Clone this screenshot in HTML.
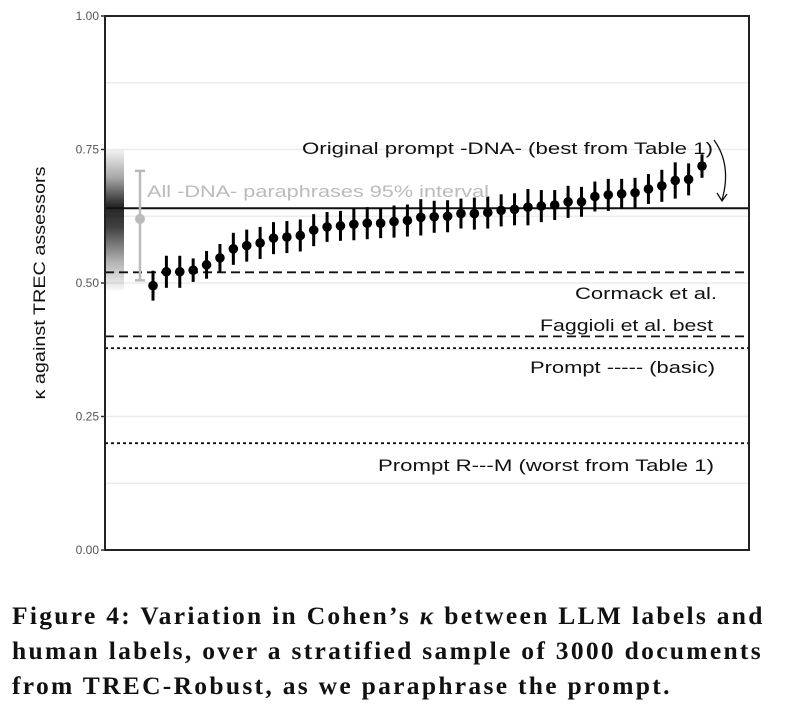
<!DOCTYPE html>
<html><head><meta charset="utf-8"><style>
body{margin:0;background:#fff;width:789px;height:713px;overflow:hidden}
svg{display:block}
.cap{position:absolute;left:12px;top:598px;font-family:"Liberation Serif",serif;font-weight:bold;font-size:25.5px;line-height:35px;color:#111;letter-spacing:2.3px;white-space:nowrap}
</style></head><body>
<svg id="chart" width="789" height="600" xmlns="http://www.w3.org/2000/svg" font-family="Liberation Sans, sans-serif">
<defs>
<linearGradient id="dens" x1="0" y1="0" x2="0" y2="1">
<stop offset="0" stop-color="#000" stop-opacity="0.05"/>
<stop offset="0.2" stop-color="#000" stop-opacity="0.35"/>
<stop offset="0.4" stop-color="#000" stop-opacity="0.85"/>
<stop offset="0.55" stop-color="#000" stop-opacity="0.75"/>
<stop offset="0.8" stop-color="#000" stop-opacity="0.3"/>
<stop offset="1" stop-color="#000" stop-opacity="0.03"/>
</linearGradient>
</defs>
<g id="grid"></g>
<rect x="106" y="150" width="18" height="140" fill="url(#dens)"/>
<g id="refs"></g>
<g id="pts"></g>
<g id="axis"></g>
<text transform="translate(45,283) rotate(-90)" text-anchor="middle" font-size="17" fill="#111" textLength="233" lengthAdjust="spacingAndGlyphs">κ against TREC assessors</text>
<text x="302" y="154" font-size="17" fill="#111" textLength="411" lengthAdjust="spacingAndGlyphs">Original prompt -DNA- (best from Table 1)</text>
<path d="M714,140 Q732,165 722,200 M717,193 L722,201 L727,194" fill="none" stroke="#111" stroke-width="1.3"/>
<text x="147" y="197" font-size="17" fill="#bbb" textLength="342" lengthAdjust="spacingAndGlyphs">All -DNA- paraphrases 95% interval</text>
<text x="575" y="299" font-size="17" fill="#111" textLength="142" lengthAdjust="spacingAndGlyphs">Cormack et al.</text>
<text x="540" y="331" font-size="17" fill="#111" textLength="173" lengthAdjust="spacingAndGlyphs">Faggioli et al. best</text>
<text x="530" y="373" font-size="17" fill="#111" textLength="185" lengthAdjust="spacingAndGlyphs">Prompt ----- (basic)</text>
<text x="378" y="471" font-size="17" fill="#111" textLength="336" lengthAdjust="spacingAndGlyphs">Prompt R---M (worst from Table 1)</text>
</svg>
<div class="cap">Figure 4: Variation in Cohen’s <i>κ</i> between LLM labels and<br>human labels, over a stratified sample of 3000 documents<br>from TREC-Robust, as we paraphrase the prompt.</div>
<script>
const values=[0.495,0.521,0.521,0.524,0.534,0.547,0.564,0.570,0.575,0.584,0.586,0.589,0.599,0.605,0.607,0.610,0.612,0.612,0.615,0.617,0.623,0.624,0.625,0.630,0.630,0.632,0.636,0.638,0.642,0.644,0.646,0.652,0.652,0.662,0.665,0.667,0.669,0.676,0.682,0.692,0.694,0.719];
const errors=[0.028,0.03,0.03,0.022,0.026,0.026,0.03,0.03,0.03,0.03,0.03,0.03,0.03,0.028,0.028,0.03,0.03,0.028,0.03,0.03,0.034,0.03,0.03,0.028,0.03,0.03,0.03,0.03,0.034,0.03,0.028,0.03,0.028,0.028,0.03,0.028,0.028,0.028,0.03,0.034,0.03,0.022];
const refValues=[0.640,0.52,0.40,0.378,0.20];
const refStyles=["solid","dash","dash","dot","dot"];
const refNames=["original-prompt-line","cormack-line","faggioli-line","prompt-basic-line","prompt-worst-line"];
const yTicks=[0,0.25,0.5,0.75,1.0];
const yTickLabels=["0.00","0.25","0.50","0.75","1.00"];
const minorTicks=[0.125,0.375,0.625,0.875];
const interval=[0.505,0.62,0.71];
const NS="http://www.w3.org/2000/svg";
const L=105,R=749,T=16,B=550;
const y=v=>B-(v)*(B-T);
const x=i=>153+i*(702-153)/(values.length-1);
function mk(tag,attrs,parent){const e=document.createElementNS(NS,tag);for(const k in attrs)e.setAttribute(k,attrs[k]);parent.appendChild(e);return e;}
const grid=document.getElementById('grid');
yTicks.concat(minorTicks).forEach(v=>{
 if(v===0||v===1)return;
 const l=mk('line',{x1:L,x2:R,y1:y(v),y2:y(v),stroke:'#ececec','stroke-width':1.5},grid);
 
 
});
const refs=document.getElementById('refs');
refValues.forEach((v,i)=>{
 const s=refStyles[i];
 const l=mk('line',{x1:L,x2:R,y1:y(v),y2:y(v),stroke:'#111','stroke-width':s==='solid'?2:1.8},refs);
 if(s==='dash')l.setAttribute('stroke-dasharray','9,5');
 if(s==='dot')l.setAttribute('stroke-dasharray','3,3');
 
 
});
const ig=mk('g',{stroke:'#bbb','stroke-width':2.5},refs);


mk('line',{x1:140,x2:140,y1:y(interval[0]),y2:y(interval[2])},ig);
mk('line',{x1:135,x2:145,y1:y(interval[0]),y2:y(interval[0])},ig);
mk('line',{x1:135,x2:145,y1:y(interval[2]),y2:y(interval[2])},ig);
mk('circle',{cx:140,cy:y(interval[1]),r:5,fill:'#bbb',stroke:'none'},ig);
const pts=document.getElementById('pts');
values.forEach((v,i)=>{
 const g=mk('g',{},pts);
 
 
 mk('line',{x1:x(i),x2:x(i),y1:y(v-errors[i]),y2:y(v+errors[i]),stroke:'#000','stroke-width':3},g);
 mk('circle',{cx:x(i),cy:y(v),r:4.8,fill:'#000'},g);
});
const ax=document.getElementById('axis');
const fr=mk('rect',{x:L,y:T,width:R-L,height:B-T,fill:'none',stroke:'#222','stroke-width':2},ax);


yTicks.forEach((v,i)=>{
 mk('line',{x1:L-4,x2:L,y1:y(v),y2:y(v),stroke:'#333','stroke-width':1.5},ax);
 const t=mk('text',{x:L-6,y:y(v)+4,'text-anchor':'end','font-size':12,fill:'#555','font-family':'Liberation Sans Narrow, Liberation Sans, sans-serif'},ax);
 t.textContent=yTickLabels[i];
 
 
});
</script>
</body></html>
